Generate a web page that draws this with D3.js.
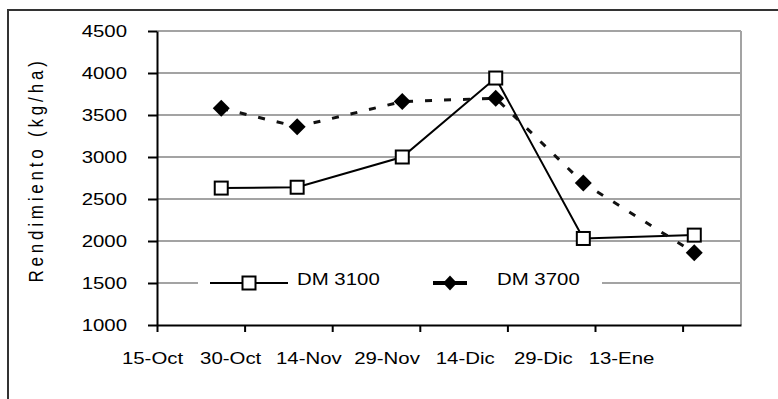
<!DOCTYPE html>
<html>
<head>
<meta charset="utf-8">
<script src="https://cdn.jsdelivr.net/npm/d3@7"></script>
<style>
  body { margin: 0; background: #fff; }
  text { font-family: "Liberation Sans", Arial, sans-serif; fill: #000; }
</style>
</head>
<body>
<script>
// sowing dates and yields (kg/ha)
const sowDates = ["2000-10-26", "2000-11-08", "2000-11-26", "2000-12-12", "2000-12-27", "2001-01-15"];
const dm3100 = [2630, 2640, 3000, 3940, 2030, 2070];
const dm3700 = [3580, 3360, 3660, 3700, 2690, 1860];
const seriesNames = ["DM 3100", "DM 3700"];

const xTickDates = ["2000-10-15", "2000-10-30", "2000-11-14", "2000-11-29", "2000-12-14", "2000-12-29", "2001-01-13"];
const xTickLabels = ["15-Oct", "30-Oct", "14-Nov", "29-Nov", "14-Dic", "29-Dic", "13-Ene"];
const yTicks = [1000, 1500, 2000, 2500, 3000, 3500, 4000, 4500];

const W = 778, H = 399;
const plotL = 157, plotR = 741, plotT = 31, plotB = 325;
const stretch = 1.2;

const svg = d3.select("body")
  .append("svg")
  .attr("width", W)
  .attr("height", H);

// outer frame (right / bottom edges fall outside the picture)
svg.append("rect")
  .attr("x", 8).attr("y", 10)
  .attr("width", 900).attr("height", 500)
  .style("fill", "none")
  .style("stroke", "#333")
  .style("stroke-width", 2);

const parse = d3.utcParse("%Y-%m-%d");
const x = d3.scaleUtc()
  .domain([parse("2000-10-15"), parse("2001-01-23")])
  .range([plotL, plotR]);
const y = d3.scaleLinear()
  .domain([1000, 4500])
  .range([plotB, plotT]);

// gridlines + plot border
svg.append("g")
  .selectAll("line")
  .data(yTicks.slice(1))
  .enter()
  .append("line")
  .attr("x1", plotL).attr("x2", plotR)
  .attr("y1", d => y(d)).attr("y2", d => y(d))
  .style("stroke", "#a3a3a3")
  .style("stroke-width", 2);

svg.append("line")
  .attr("x1", plotR).attr("x2", plotR)
  .attr("y1", y(4500)).attr("y2", y(1000))
  .style("stroke", "#a3a3a3")
  .style("stroke-width", 2);

// y axis
const yAxis = svg.append("g")
  .attr("transform", `translate(${plotL},0)`)
  .call(d3.axisLeft(y).tickValues(yTicks).tickFormat(d3.format("d")).tickSize(9).tickSizeOuter(0));
yAxis.select(".domain").style("stroke", "#000").style("stroke-width", 2);
yAxis.selectAll(".tick line").style("stroke", "#000").style("stroke-width", 2);
yAxis.selectAll(".tick text")
  .attr("x", -25)
  .attr("transform", `scale(${stretch},1)`)
  .style("font-size", "17px")
  .style("font-family", "Liberation Sans, Arial, sans-serif");

// x axis: ticks on the date scale
const xAxis = svg.append("g")
  .attr("transform", `translate(0,${plotB})`)
  .call(d3.axisBottom(x).tickValues(xTickDates.map(parse)).tickSize(7).tickSizeOuter(0).tickFormat(""));
xAxis.select(".domain").style("stroke", "#000").style("stroke-width", 2);
xAxis.selectAll(".tick line").style("stroke", "#000").style("stroke-width", 2);

// the printed labels sit on their own, tighter spacing
const xl = d3.scalePoint().domain(xTickLabels).range([152, 621]);
const xLab = svg.append("g")
  .attr("transform", `translate(0,${plotB})`)
  .call(d3.axisBottom(xl).tickSize(0).tickPadding(27));
xLab.select(".domain").remove();
xLab.selectAll(".tick text")
  .attr("transform", `scale(${stretch},1)`)
  .style("font-size", "17px")
  .style("font-family", "Liberation Sans, Arial, sans-serif");

// y title
svg.append("text")
  .attr("transform", `translate(43,170) scale(${stretch},1) rotate(-90)`)
  .attr("text-anchor", "middle")
  .style("font-size", "17px")
  .style("letter-spacing", "3.8px")
  .text("Rendimiento (kg/ha)");

// legend box (covers the 1500 gridline)
svg.append("rect")
  .attr("x", 198).attr("y", 266)
  .attr("width", 404).attr("height", 34)
  .style("fill", "#fff");

const pts3100 = sowDates.map((d, i) => ({ date: parse(d), v: dm3100[i] }));
const pts3700 = sowDates.map((d, i) => ({ date: parse(d), v: dm3700[i] }));

const line = d3.line()
  .x(d => x(d.date))
  .y(d => y(d.v));

svg.append("path")
  .datum(pts3100)
  .attr("d", line)
  .style("fill", "none")
  .style("stroke", "#000")
  .style("stroke-width", 2);

svg.append("path")
  .datum(pts3700)
  .attr("d", line)
  .style("fill", "none")
  .style("stroke", "#111")
  .style("stroke-width", 3)
  .style("stroke-dasharray", "7,12");

const sq = 13;
svg.selectAll("rect.m3100")
  .data(pts3100)
  .enter()
  .append("rect")
  .attr("class", "m3100")
  .attr("x", d => x(d.date) - sq / 2)
  .attr("y", d => y(d.v) - sq / 2)
  .attr("width", sq).attr("height", sq)
  .style("fill", "#fff")
  .style("stroke", "#000")
  .style("stroke-width", 2);

const diamond = (w, h) => `M0,${-h}L${w},0L0,${h}L${-w},0Z`;
svg.selectAll("path.m3700")
  .data(pts3700)
  .enter()
  .append("path")
  .attr("class", "m3700")
  .attr("transform", d => `translate(${x(d.date)},${y(d.v)})`)
  .attr("d", diamond(8.5, 8.5))
  .style("fill", "#000");

// legend entries
const leg = svg.append("g");
leg.append("line")
  .attr("x1", 210).attr("x2", 288).attr("y1", 283).attr("y2", 283)
  .style("stroke", "#000").style("stroke-width", 2);
leg.append("rect")
  .attr("x", 249 - sq / 2).attr("y", 283 - sq / 2)
  .attr("width", sq).attr("height", sq)
  .style("fill", "#fff").style("stroke", "#000").style("stroke-width", 2);
leg.append("text")
  .attr("transform", `translate(297,285) scale(${stretch},1)`)
  .style("font-size", "17px")
  .text(seriesNames[0]);

leg.append("line")
  .attr("x1", 433).attr("x2", 467).attr("y1", 283).attr("y2", 283)
  .style("stroke", "#000").style("stroke-width", 4);
leg.append("path")
  .attr("transform", "translate(450,283)")
  .attr("d", diamond(7, 7.5))
  .style("fill", "#000");
leg.append("text")
  .attr("transform", `translate(497,285) scale(${stretch},1)`)
  .style("font-size", "17px")
  .text(seriesNames[1]);
</script>
</body>
</html>
